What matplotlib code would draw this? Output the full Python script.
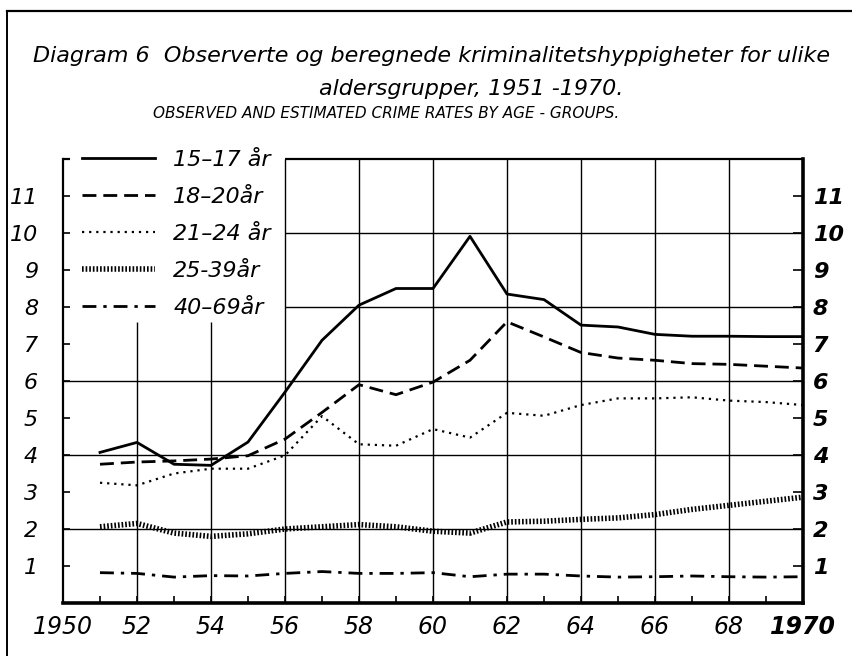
import numpy as np
import matplotlib
matplotlib.use("Agg")
import matplotlib.pyplot as plt

# Crime rates by age group
years = list(range(1951, 1971))
age_15_17 = [4.07, 4.34, 3.75, 3.72, 4.35, 5.70, 7.10, 8.05, 8.50, 8.50,
             9.91, 8.35, 8.20, 7.51, 7.46, 7.26, 7.21, 7.21, 7.20, 7.20]
age_18_20 = [3.75, 3.81, 3.84, 3.89, 3.98, 4.43, 5.15, 5.90, 5.63, 5.97,
             6.56, 7.60, 7.19, 6.77, 6.62, 6.56, 6.47, 6.45, 6.40, 6.35]
age_21_24 = [3.25, 3.18, 3.50, 3.63, 3.63, 3.99, 5.05, 4.29, 4.25, 4.70,
             4.47, 5.14, 5.06, 5.35, 5.53, 5.53, 5.56, 5.47, 5.43, 5.35]
age_25_39 = [2.06, 2.15, 1.89, 1.80, 1.87, 2.00, 2.06, 2.12, 2.06, 1.94,
             1.89, 2.19, 2.21, 2.26, 2.30, 2.39, 2.53, 2.64, 2.75, 2.86]
age_40_69 = [0.82, 0.80, 0.70, 0.74, 0.73, 0.80, 0.85, 0.80, 0.80, 0.82,
             0.71, 0.78, 0.78, 0.73, 0.70, 0.71, 0.73, 0.71, 0.70, 0.71]

labels = ["15–17 år", "18–20år", "21–24 år", "25-39år", "40–69år"]
xtick_years = list(range(1950, 1971, 2))
xtick_labels = ["1950", "52", "54", "56", "58", "60", "62", "64", "66", "68", "1970"]
yticks = list(range(1, 12))

plt.rcParams["font.family"] = "DejaVu Sans"

fig = plt.figure(figsize=(8.53, 6.56), dpi=100)
ax = fig.add_axes([63 / 853, 53 / 656, 740 / 853, 444 / 656])
ax.set_xlim(1950, 1970)
ax.set_ylim(0, 12)

# grid, partly cut away where the legend sits
ax.hlines([2, 4, 6], 1950, 1970, color="black", lw=1.0, zorder=1)
ax.hlines([8, 10], 1956, 1970, color="black", lw=1.0, zorder=1)
ax.vlines([1952, 1954], 0, 7.6, color="black", lw=1.0, zorder=1)
ax.vlines(list(range(1956, 1970, 2)), 0, 12, color="black", lw=1.0, zorder=1)
ax.hlines(12, 1956, 1970, color="black", lw=1.6, zorder=1, clip_on=False)
ax.hlines(12, 1950, 1950.2, color="black", lw=1.6, zorder=1, clip_on=False)

series = [age_15_17, age_18_20, age_21_24, age_25_39, age_40_69]
styles = [
    dict(ls="-", lw=2.0),
    dict(ls=(0, (5, 2.5)), lw=2.0),
    dict(ls=(0, (1, 2.2)), lw=1.6),
    dict(ls=(0, (0.3, 0.35)), lw=4.0),
    dict(ls=(0, (5, 2.5, 1.2, 2.5)), lw=2.0),
]
for vals, lab, st in zip(series, labels, styles):
    ax.plot(years, vals, color="black", label=lab, zorder=3, **st)

ax.spines["top"].set_visible(False)
ax.spines["left"].set_linewidth(1.6)
ax.spines["bottom"].set_linewidth(2.6)
ax.spines["right"].set_linewidth(2.6)

ax.set_xticks(xtick_years)
ax.set_xticklabels(xtick_labels)
ax.set_xticks(years[::2], minor=True)
ax.tick_params(axis="x", which="both", direction="in", length=5, width=1.2,
               pad=9, labelsize=17)
ax.set_yticks(yticks)
ax.set_yticklabels([str(v) for v in yticks])
ax.tick_params(axis="y", direction="in", length=5, width=1.2, right=False,
               labelsize=16, pad=18)
for t in ax.xaxis.get_majorticklabels():
    t.set_fontstyle("italic")
ax.xaxis.get_majorticklabels()[-1].set_fontweight("bold")
for t in ax.yaxis.get_majorticklabels():
    t.set_fontstyle("italic")

# right hand scale, bold and closer to the frame
ax2 = ax.twinx()
ax2.set_ylim(0, 12)
ax2.set_yticks(yticks)
ax2.set_yticklabels([str(v) for v in yticks])
ax2.tick_params(axis="y", direction="in", length=7, width=1.2, labelsize=16, pad=7)
for s in ax2.spines.values():
    s.set_visible(False)
for t in ax2.yaxis.get_majorticklabels():
    t.set_fontstyle("italic")
    t.set_fontweight("bold")

leg = ax.legend(loc="upper left", bbox_to_anchor=(82 / 853, 1 - 150 / 656),
                bbox_transform=fig.transFigure, frameon=False, borderpad=0,
                borderaxespad=0, handlelength=3.3, handletextpad=0.8,
                labelspacing=0.76, prop=dict(style="italic", size=16))

fig.text(432 / 853, 1 - 56 / 656,
         "Diagram 6  Observerte og beregnede kriminalitetshyppigheter for ulike",
         ha="center", va="center", fontsize=16, style="italic")
fig.text(471 / 853, 1 - 89 / 656, "aldersgrupper, 1951 -1970.",
         ha="center", va="center", fontsize=16, style="italic")
fig.text(386 / 853, 1 - 113 / 656,
         "OBSERVED AND ESTIMATED CRIME RATES BY AGE - GROUPS.",
         ha="center", va="center", fontsize=11, style="italic")

# outer frame (left and top edges)
fig.add_artist(plt.Line2D([7 / 853, 7 / 853], [0, 1 - 11 / 656],
                          color="black", lw=1.4))
fig.add_artist(plt.Line2D([7 / 853, 1], [1 - 11 / 656, 1 - 11 / 656],
                          color="black", lw=1.6))

fig.savefig("out.png", dpi=100)
